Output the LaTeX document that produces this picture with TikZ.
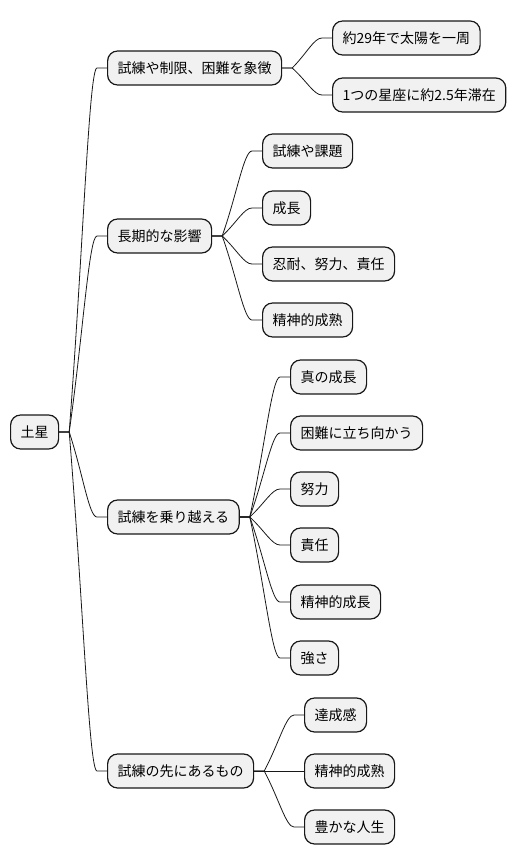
\documentclass[tikz,border=0pt]{standalone}
\usepackage{fontspec}
\setmainfont{Noto Sans CJK JP}
\usetikzlibrary{calc}
\definecolor{mmfill}{HTML}{F1F1F1}
\definecolor{mmline}{HTML}{181818}

\newcommand{\branch}[2]{%
  \path (#1.east) ++(10,0) coordinate (j) (#2.west) ++(-10,0) coordinate (e);
  \draw[mmedge] (#1.east) -- (j) .. controls ($(j)!0.5!(e)$) and ($(e)+(-8,0)$) .. (e) -- (#2.west);}

\begin{document}
\begin{tikzpicture}[
  x=1pt, y=-1pt,
  every node/.style={font=\fontsize{14}{16}\selectfont},
  mmnode/.style={rectangle, rounded corners=10pt, draw=mmline, fill=mmfill, line width=1.2pt, minimum height=34pt, inner xsep=10pt, inner ysep=0pt, anchor=west},
  mmedge/.style={draw=mmline, line width=0.8pt},
]
\useasboundingbox (0,0) rectangle (520,865);

\node[mmnode] (sat) at (10, 432) {土星};

\node[mmnode] (sym) at (107, 68) {試練や制限、困難を象徴};
\node[mmnode] (sym1) at (332, 38) {約29年で太陽を一周};
\node[mmnode] (sym2) at (332, 95) {1つの星座に約2.5年滞在};

\node[mmnode] (eff) at (107, 236) {長期的な影響};
\node[mmnode] (eff1) at (262, 151) {試練や課題};
\node[mmnode] (eff2) at (262, 208) {成長};
\node[mmnode] (eff3) at (262, 264) {忍耐、努力、責任};
\node[mmnode] (eff4) at (262, 320) {精神的成熟};

\node[mmnode] (ovc) at (107, 517) {試練を乗り越える};
\node[mmnode] (ovc1) at (290, 377) {真の成長};
\node[mmnode] (ovc2) at (290, 433) {困難に立ち向かう};
\node[mmnode] (ovc3) at (290, 489) {努力};
\node[mmnode] (ovc4) at (290, 545) {責任};
\node[mmnode] (ovc5) at (290, 602) {精神的成長};
\node[mmnode] (ovc6) at (290, 658) {強さ};

\node[mmnode] (fut) at (107, 771) {試練の先にあるもの};
\node[mmnode] (fut1) at (304, 715) {達成感};
\node[mmnode] (fut2) at (304, 771) {精神的成熟};
\node[mmnode] (fut3) at (304, 827) {豊かな人生};

% branches
\branch{sat}{sym}
\branch{sat}{eff}
\branch{sat}{ovc}
\branch{sat}{fut}
\branch{sym}{sym1}
\branch{sym}{sym2}
\branch{eff}{eff1}
\branch{eff}{eff2}
\branch{eff}{eff3}
\branch{eff}{eff4}
\branch{ovc}{ovc1}
\branch{ovc}{ovc2}
\branch{ovc}{ovc3}
\branch{ovc}{ovc4}
\branch{ovc}{ovc5}
\branch{ovc}{ovc6}
\branch{fut}{fut1}
\branch{fut}{fut2}
\branch{fut}{fut3}
\end{tikzpicture}
\end{document}
